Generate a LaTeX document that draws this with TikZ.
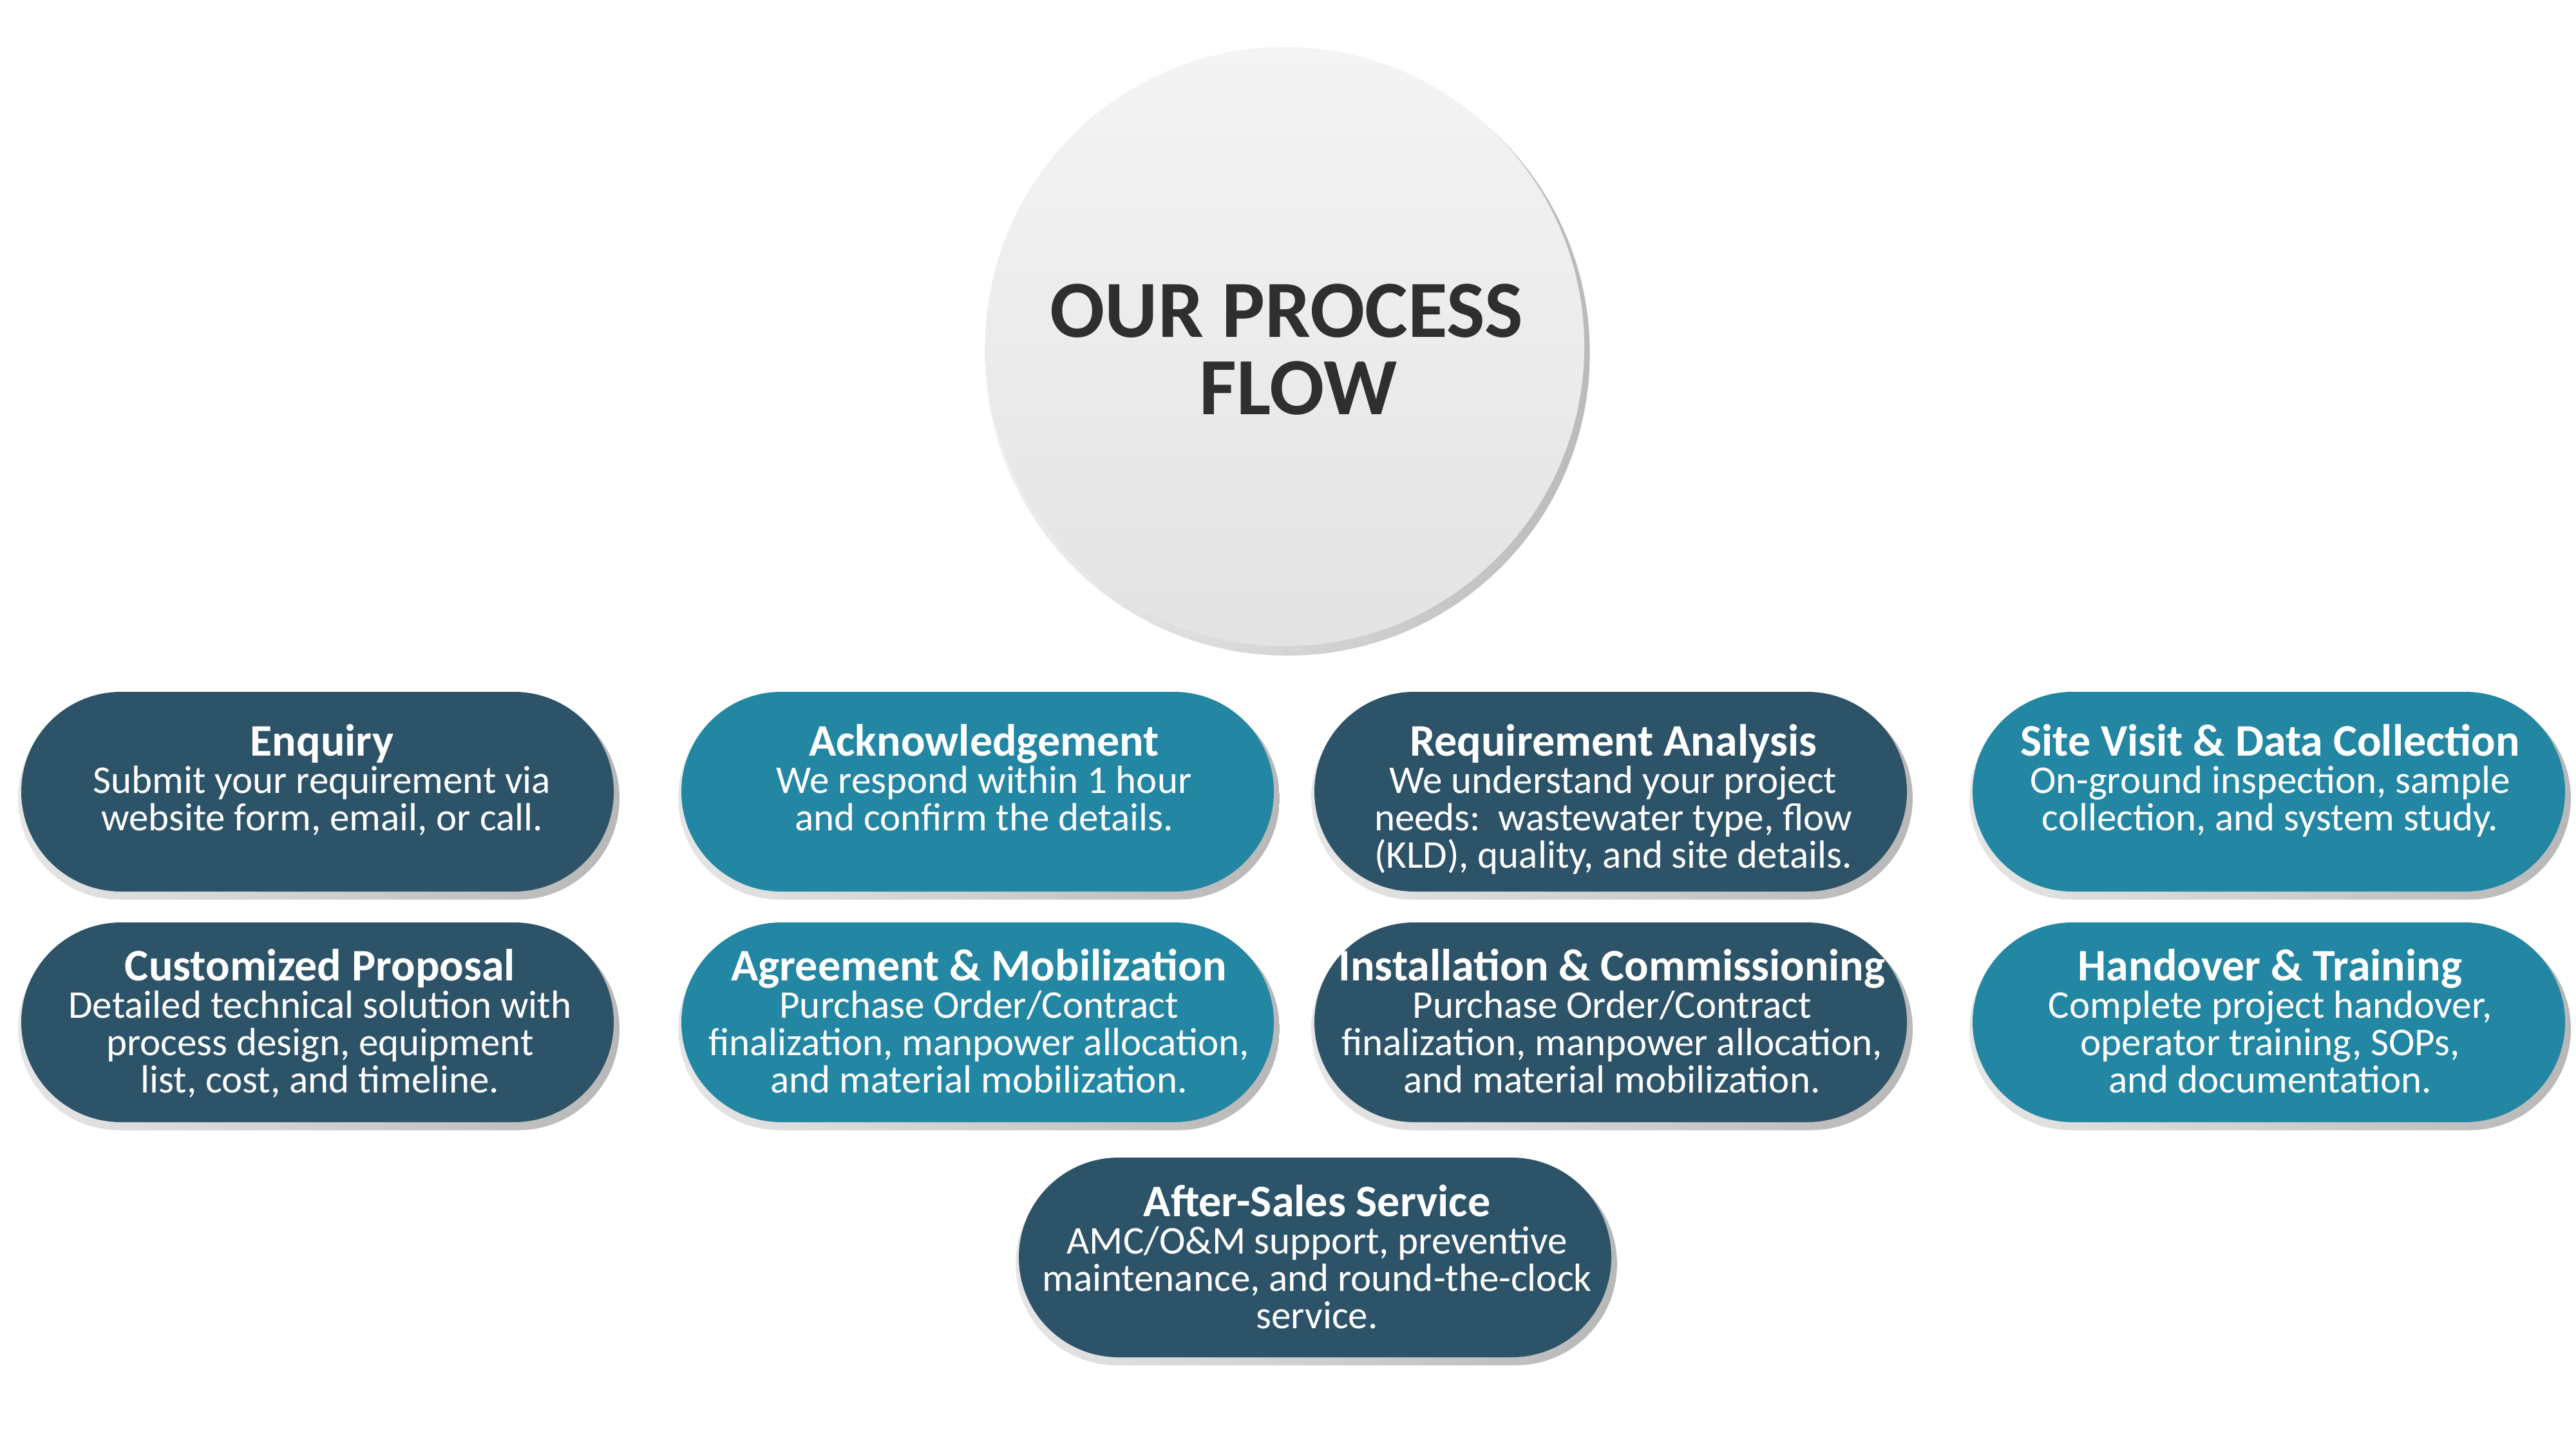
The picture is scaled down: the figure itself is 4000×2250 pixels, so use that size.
\documentclass[tikz,border=0pt]{standalone}
\usepackage{fontspec}
\setmainfont{Carlito}
\usetikzlibrary{shadows}

\definecolor{pilldark}{HTML}{2D5369}
\definecolor{pillteal}{HTML}{2386A3}
\definecolor{hubtext}{HTML}{2F2F2F}
\definecolor{hubtop}{HTML}{F4F4F4}
\definecolor{hubbottom}{HTML}{E3E3E3}

% one unit = one pixel of a 4000 x 2250 canvas, y running downwards
\tikzset{
  pillbox/.style={rectangle, rounded corners=38.75pt, minimum width=230pt,
    minimum height=77.5pt, inner sep=0pt, draw=none,
    general shadow={shadow scale=1.015, shadow xshift=0.5pt, shadow yshift=-2.5pt,
      left color=black!10, right color=black!28}},
  darkpill/.style={pillbox, fill=pilldark},
  tealpill/.style={pillbox, fill=pillteal},
  pilltext/.style={anchor=base, inner sep=0pt, text=white},
  hub/.style={circle, minimum size=232.5pt, inner sep=0pt, draw=none,
    top color=hubtop, bottom color=hubbottom,
    general shadow={shadow scale=1.01, shadow xshift=1pt, shadow yshift=-2.5pt,
      left color=black!6, right color=black!27}},
  hubtitle/.style={anchor=base, inner sep=0pt, text=hubtext},
}

% title and description of one step, first baseline at the node's base
\newcommand{\steptext}[2]{%
  \parbox[t]{260pt}{\centering\fontsize{15.25}{14.5}\selectfont
    {\fontsize{17.5}{14.5}\selectfont\bfseries #1}\\#2}}

\begin{document}
\begin{tikzpicture}[x=0.25pt, y=-0.25pt]
  \useasboundingbox (0,0) rectangle (4000,2250);
  \fill[white] (0,0) rectangle (4000,2250);

  % central badge
  \node[hub] (hub) at (1995,538) {};
  \node[hubtitle] (hubtxt) at (1998,523)
    {\parbox[t]{300pt}{\centering\fontsize{31.5}{30}\selectfont\bfseries
      OUR PROCESS\\\hspace*{9pt}FLOW}};

  % first row
  \node[darkpill] (enq) at (493,1229) {};
  \node[pilltext] (enqtxt) at (500,1173) {\steptext{Enquiry}{Submit your requirement via\\website form, email, or call.}};

  \node[tealpill] (ack) at (1518,1229) {};
  \node[pilltext] (acktxt) at (1528,1173) {\steptext{Acknowledgement}{We respond within 1 hour\\and confirm the details.}};

  \node[darkpill] (req) at (2501,1229) {};
  \node[pilltext] (reqtxt) at (2505,1173) {\steptext{Requirement Analysis}{We understand your project\\needs:\ \ wastewater type, flow\\(KLD), quality, and site details.}};

  \node[tealpill] (site) at (3523,1229) {};
  \node[pilltext] (sitetxt) at (3525,1173) {\steptext{Site Visit \& Data Collection}{On-ground inspection, sample\\collection, and system study.}};

  % second row
  \node[darkpill] (prop) at (493,1587) {};
  \node[pilltext] (proptxt) at (497,1522) {\steptext{Customized Proposal}{Detailed technical solution with\\process design, equipment\\list, cost, and timeline.}};

  \node[tealpill] (agr) at (1518,1587) {};
  \node[pilltext] (agrtxt) at (1520,1522) {\steptext{Agreement \& Mobilization}{Purchase Order/Contract\\finalization, manpower allocation,\\and material mobilization.}};

  \node[darkpill] (inst) at (2501,1587) {};
  \node[pilltext] (insttxt) at (2503,1522) {\steptext{Installation \& Commissioning}{Purchase Order/Contract\\finalization, manpower allocation,\\and material mobilization.}};

  \node[tealpill] (hand) at (3523,1587) {};
  \node[pilltext] (handtxt) at (3525,1522) {\steptext{Handover \& Training}{Complete project handover,\\operator training, SOPs,\\and documentation.}};

  % last step
  \node[darkpill] (after) at (2042,1952) {};
  \node[pilltext] (aftertxt) at (2045,1888) {\steptext{After-Sales Service}{AMC/O\&M support, preventive\\maintenance, and round-the-clock\\service.}};
\end{tikzpicture}
\end{document}
